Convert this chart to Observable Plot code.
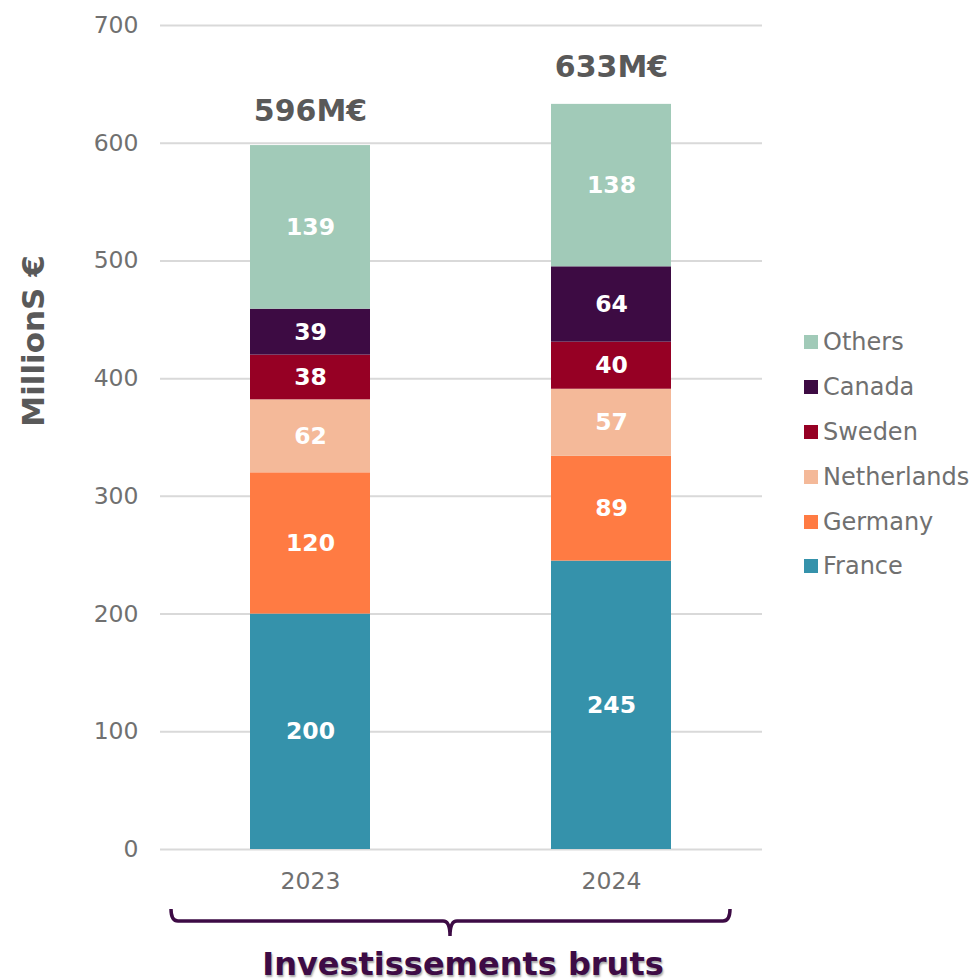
<!DOCTYPE html>
<html>
<head>
<meta charset="utf-8">
<script src="https://cdn.jsdelivr.net/npm/d3@7"></script>
<script src="https://cdn.jsdelivr.net/npm/@observablehq/plot@0.6"></script>
<style>
  body { margin: 0; background: #fff; font-family: "DejaVu Sans", Verdana, sans-serif; }
  #wrap { position: relative; width: 971px; height: 980px; overflow: hidden; }
  #legend { position: absolute; left: 804px; top: 320px; }
  .item { display: flex; align-items: center; height: 44.8px; font-size: 24px; color: #707070; }
  .sw { width: 14px; height: 14px; margin-right: 5px; flex: none; }
  #ylab { position: absolute; left: 33px; top: 341px; transform: translate(-50%, -50%) rotate(-90deg);
          font-size: 31px; font-weight: bold; color: #595959; white-space: nowrap; }
  #brk { position: absolute; left: 0; top: 0; }
  #title { position: absolute; left: 463px; top: 964px; transform: translate(-50%, -50%);
           font-size: 32px; font-weight: bold; color: #3d0b45; white-space: nowrap;
           text-shadow: 1px 2px 2px rgba(0,0,0,0.35); }
</style>
</head>
<body>
<div id="wrap"></div>
<script>
const years = ["2023", "2024"];
const countries = ["France", "Germany", "Netherlands", "Sweden", "Canada", "Others"];
const colors = ["#3592ab", "#ff7b43", "#f4b999", "#960024", "#3d0b43", "#a1cab8"];
const values2023 = [200, 120, 62, 38, 39, 139];
const values2024 = [245, 89, 57, 40, 64, 138];
const totals = [596, 633];
const totalLabels = ["596M€", "633M€"];
const yTicks = [0, 100, 200, 300, 400, 500, 600, 700];

const data = [];
countries.forEach((c, i) => {
  data.push({year: years[0], country: c, value: values2023[i]});
  data.push({year: years[1], country: c, value: values2024[i]});
});
const totalData = years.map((y, i) => ({year: y, total: totals[i], label: totalLabels[i]}));

const chart = Plot.plot({
  width: 971,
  height: 900,
  marginLeft: 160,
  marginRight: 209,
  marginTop: 25,
  marginBottom: 51,
  style: {fontFamily: "DejaVu Sans, Verdana, sans-serif", background: "#fff", color: "#707070", overflow: "visible"},
  x: {domain: years, paddingInner: 0.6, paddingOuter: 0.3, label: null},
  y: {domain: [0, 700], label: null},
  color: {domain: countries, range: colors},
  marks: [
    Plot.gridY(yTicks, {stroke: "#d9d9d9", strokeOpacity: 1, strokeWidth: 2}),
    Plot.axisY(yTicks, {tickSize: 0, tickPadding: 22, fontSize: 23.5, fill: "#707070", label: null}),
    Plot.axisX({tickSize: 0, tickPadding: 23, fontSize: 23.5, fill: "#707070", label: null}),
    Plot.barY(data, {x: "year", y: "value", fill: "country", order: countries}),
    Plot.text(data, Plot.stackY({x: "year", y: "value", z: "country", order: countries, text: d => String(d.value),
      fill: "#fff", fontSize: 23.5, fontWeight: "bold"})),
    Plot.text(totalData, {x: "year", y: "total", text: "label", dy: -37, fontSize: 30, fontWeight: "bold", fill: "#595959"})
  ]
});

const wrap = document.getElementById("wrap");
wrap.appendChild(chart);

const ylab = document.createElement("div");
ylab.id = "ylab";
ylab.textContent = "MillionS €";
wrap.appendChild(ylab);

const legend = document.createElement("div");
legend.id = "legend";
countries.slice().reverse().forEach(c => {
  const it = document.createElement("div");
  it.className = "item";
  const sw = document.createElement("span");
  sw.className = "sw";
  sw.style.background = colors[countries.indexOf(c)];
  it.appendChild(sw);
  it.appendChild(document.createTextNode(c));
  legend.appendChild(it);
});
wrap.appendChild(legend);

const ns = "http://www.w3.org/2000/svg";
const brk = document.createElementNS(ns, "svg");
brk.setAttribute("id", "brk");
brk.setAttribute("width", 971);
brk.setAttribute("height", 980);
const p = document.createElementNS(ns, "path");
p.setAttribute("d", "M171,909 Q171,921 178,921 L443,921 Q450,921 450,936 Q450,921 457,921 L723,921 Q730,921 730,909");
p.setAttribute("fill", "none");
p.setAttribute("stroke", "#3d0b45");
p.setAttribute("stroke-width", 3.5);
brk.appendChild(p);
wrap.appendChild(brk);

const title = document.createElement("div");
title.id = "title";
title.textContent = "Investissements bruts";
wrap.appendChild(title);
</script>
</body>
</html>
